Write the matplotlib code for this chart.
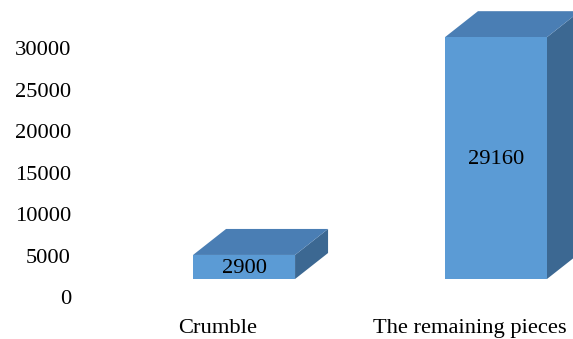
import matplotlib
matplotlib.use('Agg')
import matplotlib.pyplot as plt
from matplotlib.patches import Polygon

categories = ['Crumble', 'The remaining pieces']
values = [2900, 29160]
yticks = [0, 5000, 10000, 15000, 20000, 25000, 30000]

W, H, DPI = 573, 339, 100
FRONT = '#5B9BD5'
TOP = '#4A7EB4'
SIDE = '#3C6892'

plt.rcParams['font.family'] = ['Liberation Serif', 'DejaVu Serif']

fig = plt.figure(figsize=(W / DPI, H / DPI), dpi=DPI)
ax_left, ax_bottom, ax_top = 78, 297, 8
ax = fig.add_axes([ax_left / W, (H - ax_bottom) / H, (W - ax_left) / W, (ax_bottom - ax_top) / H])

x = list(range(len(categories)))
xlim = (-0.554, 1.411)
ylim = (0, 34850)
ax.set_xlim(*xlim)
ax.set_ylim(*ylim)

px_x = (W - ax_left) / (xlim[1] - xlim[0])
px_y = (ax_bottom - ax_top) / (ylim[1] - ylim[0])

bar_w = 102 / px_x
shift_x = 26.5 / px_x
shift_y = 18 / px_y
dep_x = 33 / px_x
dep_y = 26 / px_y

for xi, v in zip(x, values):
    l = xi - bar_w / 2 + shift_x
    r = l + bar_w
    b = shift_y
    t = v + shift_y
    # side face
    ax.add_patch(Polygon([(r, b), (r + dep_x, b + dep_y), (r + dep_x, t + dep_y), (r, t)],
                         closed=True, facecolor=SIDE, edgecolor='none', clip_on=False, zorder=2))
    # top face
    ax.add_patch(Polygon([(l, t), (r, t), (r + dep_x, t + dep_y), (l + dep_x, t + dep_y)],
                         closed=True, facecolor=TOP, edgecolor='none', clip_on=False, zorder=2))
    # front face
    ax.add_patch(Polygon([(l, b), (r, b), (r, t), (l, t)],
                         closed=True, facecolor=FRONT, edgecolor='none', clip_on=False, zorder=3))
    ax.text((l + r) / 2, (b + t) / 2 - 1.5 / px_y, f'{v}', ha='center', va='center',
            fontsize=16.2, color='black', zorder=4)

ax.set_yticks(yticks)
ax.set_yticklabels([str(t) for t in yticks], fontsize=16.2)
ax.set_xticks(x)
ax.set_xticklabels(categories, fontsize=16.2)
ax.tick_params(axis='y', length=0, pad=5)
ax.tick_params(axis='x', length=0, pad=15.5)
for s in ax.spines.values():
    s.set_visible(False)
ax.patch.set_visible(False)

fig.savefig('out.png', dpi=DPI)
